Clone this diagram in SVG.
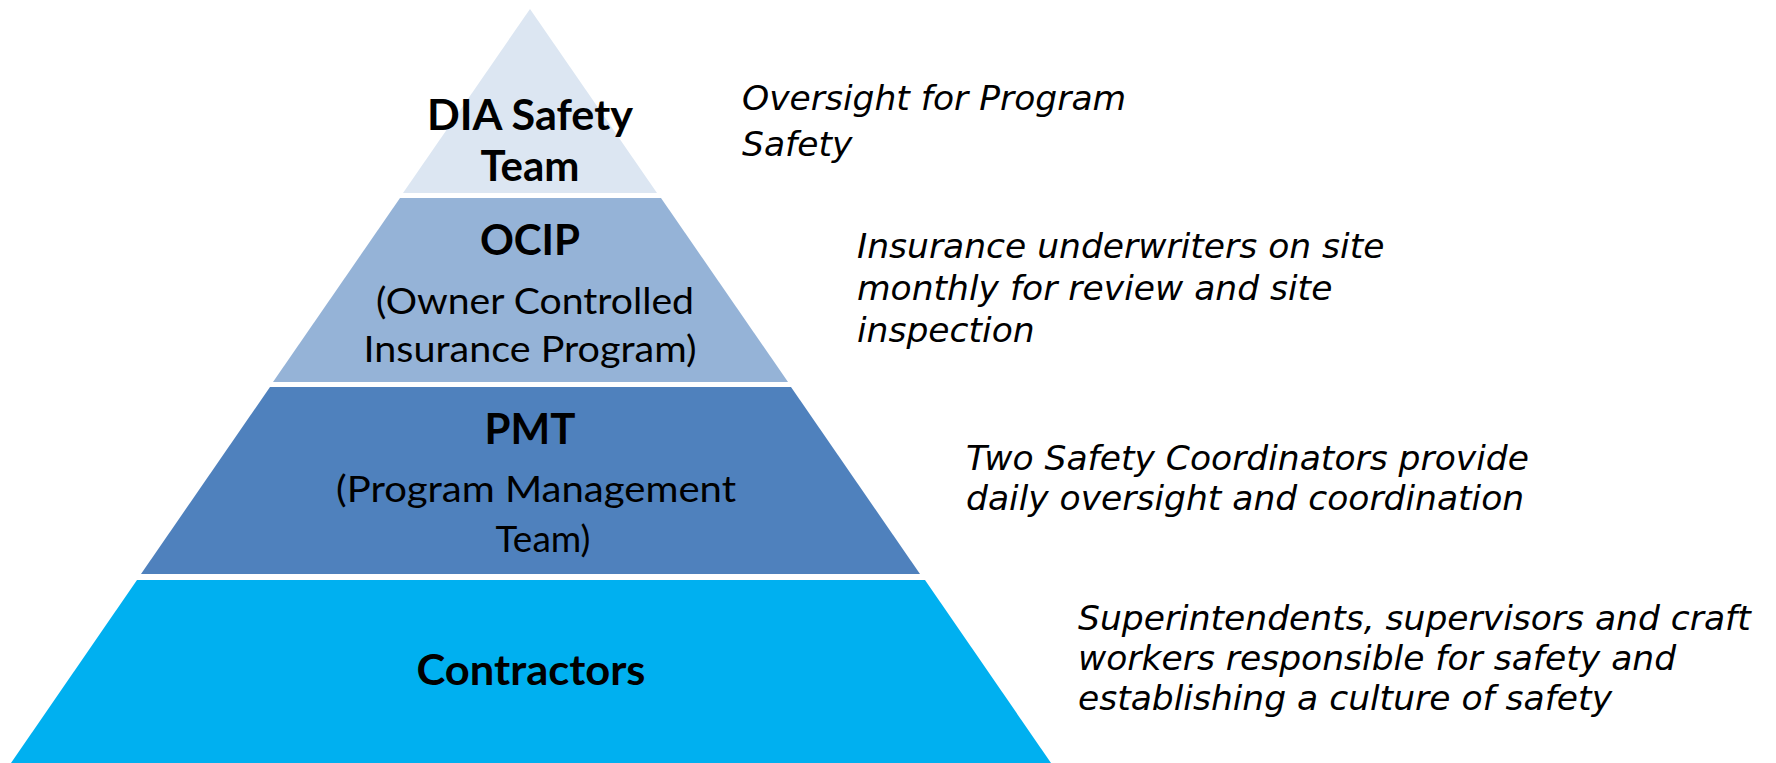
<svg xmlns="http://www.w3.org/2000/svg" width="1776" height="763" viewBox="0 0 1776 763">
<style>
.title{font-family:Lato,"Open Sans","Liberation Sans",sans-serif;font-weight:bold;font-size:42px;fill:#000;text-anchor:middle}
.sub{font-family:Lato,"Open Sans","Liberation Sans",sans-serif;font-size:37px;fill:#000;text-anchor:middle}
.desc{font-family:"DejaVu Sans","Liberation Sans",sans-serif;font-style:italic;font-size:34.5px;fill:#000}
</style>
<rect width="1776" height="763" fill="#fff"/>
<g id="tier-dia">
<polygon points="530,9 657,193 403,193" fill="#DCE6F2"/>
<text class="title" x="530" y="130" textLength="206" lengthAdjust="spacingAndGlyphs">DIA Safety</text>
<text class="title" x="530" y="181">Team</text>
</g>
<g id="tier-ocip">
<polygon points="400,198 661,198 788,382 273,382" fill="#95B3D7"/>
<text class="title" x="530" y="255">OCIP</text>
<text class="sub" x="535" y="314" textLength="318" lengthAdjust="spacingAndGlyphs">(Owner Controlled</text>
<text class="sub" x="530" y="362" textLength="333" lengthAdjust="spacingAndGlyphs">Insurance Program)</text>
</g>
<g id="tier-pmt">
<polygon points="270,387 791,387 920,574 141,574" fill="#4F81BD"/>
<text class="title" x="530" y="444">PMT</text>
<text class="sub" x="536" y="502" textLength="400" lengthAdjust="spacingAndGlyphs">(Program Management</text>
<text class="sub" x="543" y="552">Team)</text>
</g>
<g id="tier-contractors">
<polygon points="137,580 925,580 1051,763 11,763" fill="#00B0F0"/>
<text class="title" x="531" y="685" textLength="229" lengthAdjust="spacingAndGlyphs">Contractors</text>
</g>
<g id="descriptions">
<text class="desc" x="742" y="110">Oversight for Program</text>
<text class="desc" x="742" y="156">Safety</text>
<text class="desc" x="857" y="258">Insurance underwriters on site</text>
<text class="desc" x="857" y="300">monthly for review and site</text>
<text class="desc" x="857" y="342">inspection</text>
<text class="desc" x="966" y="470">Two Safety Coordinators provide</text>
<text class="desc" x="966" y="510">daily oversight and coordination</text>
<text class="desc" x="1078" y="630">Superintendents, supervisors and craft</text>
<text class="desc" x="1078" y="670">workers responsible for safety and</text>
<text class="desc" x="1078" y="710">establishing a culture of safety</text>
</g>
<g id="connectors"></g>
</svg>
